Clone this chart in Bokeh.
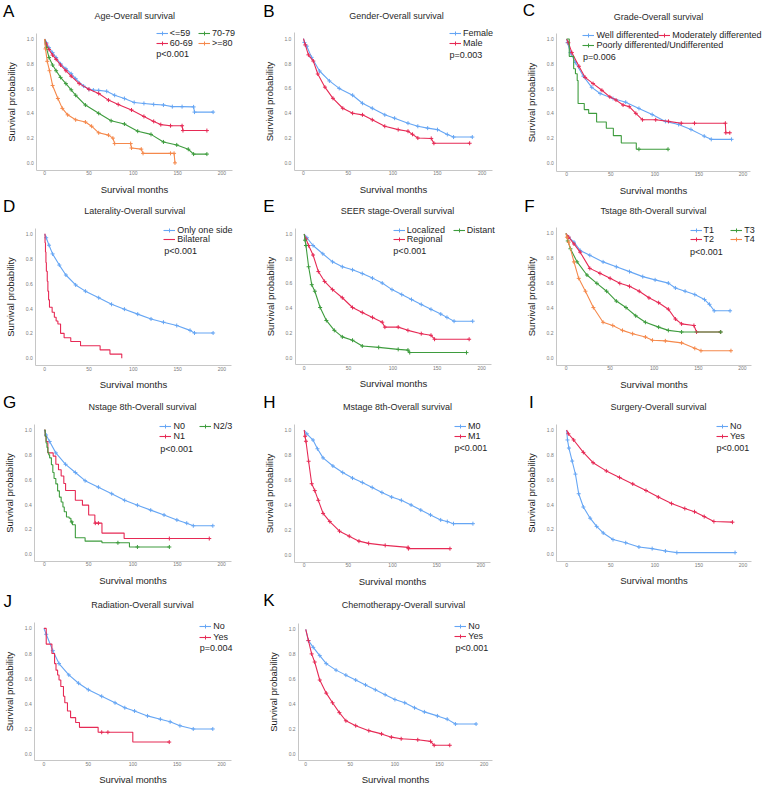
from bokeh.plotting import figure
from bokeh.models import Range1d, FixedTicker, PrintfTickFormatter, Label, Legend, LegendItem
from bokeh.layouts import gridplot
from bokeh.embed import file_html
from bokeh.resources import INLINE
import numpy as np

# ------------------------------------------------------------------ data
x_ticks = [0, 50, 100, 150, 200]
y_ticks = [0.0, 0.2, 0.4, 0.6, 0.8, 1.0]

# A  Age
age_groups = ["<=59", "60-69", "70-79", ">=80"]
age_t_le59 = [0, 2, 5, 9, 13, 18, 24, 30, 35, 44, 50, 55, 61, 70, 79, 90, 101, 112, 123, 134, 144, 155, 168, 169, 190]
age_s_le59 = [1.0, 0.97, 0.93, 0.89, 0.85, 0.80, 0.76, 0.72, 0.68, 0.62, 0.594, 0.588, 0.585, 0.578, 0.546, 0.52, 0.488, 0.48, 0.472, 0.467, 0.454, 0.454, 0.452, 0.41, 0.41]
age_t_6069 = [0, 2, 5, 9, 13, 18, 24, 30, 39, 50, 61, 72, 83, 98, 112, 123, 131, 142, 155, 156, 183]
age_s_6069 = [1.0, 0.96, 0.915, 0.87, 0.836, 0.79, 0.744, 0.70, 0.64, 0.594, 0.56, 0.507, 0.472, 0.427, 0.375, 0.335, 0.309, 0.30, 0.30, 0.261, 0.261]
age_t_7079 = [0, 2, 5, 9, 13, 18, 24, 30, 35, 46, 61, 75, 90, 105, 120, 134, 149, 162, 168, 183]
age_s_7079 = [1.0, 0.93, 0.85, 0.79, 0.744, 0.69, 0.64, 0.59, 0.546, 0.467, 0.40, 0.34, 0.314, 0.256, 0.23, 0.169, 0.145, 0.11, 0.071, 0.071]
age_t_ge80 = [0, 1, 3, 5.5, 9, 15, 20, 26, 35, 46, 53, 61, 72, 77, 79, 97, 98, 109, 111, 142, 146, 147]
age_s_ge80 = [1.0, 0.92, 0.82, 0.744, 0.625, 0.52, 0.44, 0.388, 0.348, 0.33, 0.296, 0.243, 0.224, 0.2, 0.156, 0.156, 0.12, 0.111, 0.077, 0.077, 0.077, 0.0]

# B  Gender
gender_groups = ["Female", "Male"]
gender_t_f = [0, 1, 3.7, 9, 18, 29, 40, 55, 66, 77, 91, 102, 117, 128, 139, 150, 161, 168, 189]
gender_s_f = [1.0, 0.97, 0.94, 0.85, 0.74, 0.66, 0.60, 0.545, 0.48, 0.44, 0.387, 0.36, 0.32, 0.295, 0.28, 0.268, 0.229, 0.208, 0.208]
gender_t_m = [0, 2, 5.5, 11, 16, 24, 33, 44, 55, 66, 77, 91, 106, 117, 122, 128, 143, 146, 186]
gender_s_m = [1.0, 0.95, 0.87, 0.82, 0.716, 0.61, 0.52, 0.44, 0.40, 0.387, 0.347, 0.295, 0.268, 0.255, 0.23, 0.20, 0.197, 0.158, 0.158]

# C  Grade
grade_groups = ["Well differented", "Moderately differented", "Poorly differented/Undifferented"]
grade_t_well = [0, 1, 4.4, 10, 19, 28.5, 38, 52.6, 67, 82, 97, 112, 127, 141, 156, 164, 187]
grade_s_well = [1.0, 0.97, 0.89, 0.81, 0.70, 0.61, 0.56, 0.52, 0.49, 0.44, 0.39, 0.335, 0.31, 0.27, 0.216, 0.19, 0.19]
grade_t_mod = [0, 2, 6, 14, 21, 30, 40, 49, 56, 64, 71, 78.5, 86, 101, 115.5, 130, 145, 180, 180.5, 185]
grade_s_mod = [1.0, 0.97, 0.89, 0.78, 0.69, 0.64, 0.586, 0.533, 0.507, 0.467, 0.454, 0.40, 0.348, 0.348, 0.335, 0.32, 0.32, 0.32, 0.243, 0.243]
grade_t_poor = [0, 3, 8, 10, 12, 13, 20, 25, 34, 45, 53, 62, 79, 115]
grade_s_poor = [1.0, 0.86, 0.76, 0.72, 0.665, 0.48, 0.43, 0.40, 0.33, 0.28, 0.22, 0.16, 0.11, 0.11]
grade_c_poor = [82, 115]

# D  Laterality
lat_groups = ["Only one side", "Bilateral"]
lat_t_one = [0, 1.8, 5, 9, 16.6, 24, 35, 46, 61, 75.5, 90, 105, 120, 134, 149, 164, 169, 190]
lat_s_one = [1.0, 0.97, 0.91, 0.84, 0.75, 0.67, 0.59, 0.54, 0.487, 0.434, 0.395, 0.355, 0.316, 0.29, 0.263, 0.224, 0.203, 0.203]
lat_t_bi = [0, 0.5, 1, 1.5, 2, 3, 3.7, 4.5, 5.5, 8.5, 11, 13, 15, 18, 22, 29.5, 40.5, 62.6, 73.7, 87]
lat_s_bi = [1.0, 0.93, 0.855, 0.77, 0.70, 0.62, 0.54, 0.47, 0.41, 0.37, 0.33, 0.30, 0.276, 0.20, 0.165, 0.135, 0.10, 0.067, 0.033, 0.0]
lat_c_bi = []

# E  SEER stage
seer_groups = ["Localized", "Regional", "Distant"]
seer_t_loc = [0, 3, 10, 21, 32, 43, 54.5, 65.5, 77, 88, 99, 110, 121, 132, 143, 154, 161, 169, 190]
seer_s_loc = [1.0, 0.97, 0.907, 0.84, 0.775, 0.735, 0.71, 0.68, 0.643, 0.603, 0.55, 0.51, 0.47, 0.43, 0.39, 0.352, 0.325, 0.294, 0.294]
seer_t_reg = [0, 2, 5, 10, 16, 23, 32, 43, 54.5, 65.5, 77, 88, 91, 106, 117, 132, 143, 147, 186]
seer_s_reg = [1.0, 0.96, 0.907, 0.83, 0.696, 0.616, 0.55, 0.484, 0.405, 0.365, 0.325, 0.286, 0.246, 0.246, 0.22, 0.193, 0.18, 0.148, 0.148]
seer_t_dis = [0, 1, 2, 5, 8.5, 12, 18, 25, 34, 43, 54.5, 65.5, 84, 106, 117, 119, 183]
seer_s_dis = [1.0, 0.95, 0.907, 0.735, 0.59, 0.537, 0.405, 0.30, 0.22, 0.167, 0.14, 0.093, 0.082, 0.066, 0.06, 0.04, 0.04]

# F  T stage
t_groups = ["T1", "T2", "T3", "T4"]
t_t_t1 = [0, 3, 9, 16, 27, 42, 57, 72, 87, 101, 116, 124, 135, 146, 157, 162.6, 168, 186]
t_s_t1 = [1.0, 0.97, 0.93, 0.864, 0.825, 0.772, 0.733, 0.694, 0.654, 0.628, 0.602, 0.563, 0.537, 0.51, 0.47, 0.432, 0.38, 0.38]
t_t_t2 = [0, 3, 9, 16, 27, 38.5, 50, 61, 72, 83, 94, 105, 116, 124, 131, 145, 148, 175]
t_s_t2 = [1.0, 0.97, 0.916, 0.85, 0.72, 0.68, 0.64, 0.60, 0.576, 0.537, 0.484, 0.445, 0.393, 0.314, 0.275, 0.262, 0.21, 0.21]
t_t_t3 = [0, 2, 5, 12.6, 23.7, 35, 46, 57, 68, 79, 90, 105, 116, 131, 175.5]
t_s_t3 = [1.0, 0.94, 0.877, 0.772, 0.667, 0.60, 0.537, 0.458, 0.406, 0.34, 0.288, 0.249, 0.223, 0.21, 0.21]
t_t_t4 = [0, 1, 3, 9, 14.4, 22, 31, 42, 53, 64, 75.5, 90, 98, 112.6, 131, 146, 153, 187]
t_s_t4 = [1.0, 0.97, 0.93, 0.772, 0.64, 0.537, 0.406, 0.288, 0.262, 0.223, 0.196, 0.17, 0.144, 0.139, 0.123, 0.079, 0.06, 0.06]

# G  N stage
n_groups = ["N0", "N1", "N2/3"]
n_t_n0 = [0, 2, 6, 13, 24, 35, 46, 61, 76, 90.6, 105, 120, 135, 149.5, 160.6, 168, 190]
n_s_n0 = [1.0, 0.96, 0.908, 0.816, 0.724, 0.658, 0.592, 0.54, 0.487, 0.434, 0.395, 0.355, 0.316, 0.276, 0.25, 0.229, 0.229]
n_t_n1 = [0, 1, 2, 4, 10, 13, 16, 19, 22, 24, 35, 43, 50, 57, 65, 90, 186]
n_s_n1 = [1.0, 0.95, 0.908, 0.816, 0.79, 0.724, 0.68, 0.63, 0.57, 0.513, 0.434, 0.395, 0.316, 0.25, 0.17, 0.126, 0.126]
n_c_n1 = [57.5, 61, 141, 186]
n_t_n23 = [0, 1, 2, 3, 4, 5, 6, 8, 9.6, 11, 13, 15, 17, 19, 21, 22.5, 25, 28, 30, 31.7, 35, 46, 65, 96, 141]
n_s_n23 = [1.0, 0.95, 0.895, 0.86, 0.82, 0.80, 0.776, 0.72, 0.658, 0.61, 0.566, 0.51, 0.46, 0.42, 0.38, 0.342, 0.30, 0.29, 0.26, 0.237, 0.132, 0.105, 0.092, 0.058, 0.058]
n_c_n23 = [31, 83, 105, 141]

# H  M stage
m_groups = ["M0", "M1"]
m_t_m0 = [0, 3, 10, 15, 21.4, 32.5, 43.6, 54.7, 65.8, 77, 88, 99, 110, 121, 132, 143, 154.5, 162, 169, 191]
m_s_m0 = [1.0, 0.97, 0.92, 0.85, 0.777, 0.712, 0.66, 0.615, 0.58, 0.54, 0.50, 0.463, 0.437, 0.40, 0.359, 0.32, 0.28, 0.267, 0.25, 0.25]
m_t_m1 = [0, 1, 2, 5, 8.5, 12, 16, 21.4, 29, 40, 51, 62, 73, 91.7, 117.6, 118, 165]
m_s_m1 = [1.0, 0.95, 0.91, 0.75, 0.57, 0.515, 0.437, 0.332, 0.267, 0.19, 0.15, 0.11, 0.092, 0.076, 0.06, 0.05, 0.05]

# I  Surgery
surg_groups = ["No", "Yes"]
surg_t_no = [0, 1, 2.6, 6.3, 10, 13.7, 19, 26.7, 34, 41.5, 52.6, 67, 82, 97, 112, 125, 191]
surg_s_no = [1.0, 0.92, 0.855, 0.75, 0.645, 0.487, 0.38, 0.29, 0.224, 0.171, 0.118, 0.092, 0.058, 0.045, 0.026, 0.013, 0.013]
surg_t_yes = [0, 2, 8, 19, 30, 45, 60, 75, 90, 104, 119, 134, 145, 156, 167, 188]
surg_s_yes = [1.0, 0.97, 0.92, 0.82, 0.737, 0.671, 0.618, 0.566, 0.513, 0.46, 0.408, 0.368, 0.342, 0.303, 0.263, 0.258]

# J  Radiation
rad_groups = ["No", "Yes"]
rad_t_no = [0, 2.6, 10, 17, 28, 39, 50, 65, 80, 91, 102, 116.5, 131, 142, 153, 168, 190]
rad_s_no = [1.0, 0.953, 0.823, 0.72, 0.63, 0.564, 0.512, 0.46, 0.408, 0.369, 0.343, 0.304, 0.278, 0.257, 0.226, 0.2, 0.2]
rad_t_yes = [0, 2.6, 9, 12, 13.6, 15.4, 17, 19, 22, 23.5, 26.5, 30, 35.7, 40, 61, 100, 141]
rad_s_yes = [1.0, 0.875, 0.80, 0.72, 0.668, 0.629, 0.59, 0.538, 0.46, 0.408, 0.343, 0.29, 0.252, 0.213, 0.174, 0.096, 0.096]
rad_c_yes = [65, 72, 141]

# K  Chemotherapy
chemo_groups = ["No", "Yes"]
chemo_t_no = [0, 3, 8.4, 15.7, 23, 34, 45, 56, 67, 78, 89, 100, 111, 122, 133, 147.6, 158.6, 167.8, 191]
chemo_s_no = [1.0, 0.91, 0.856, 0.79, 0.726, 0.674, 0.634, 0.595, 0.556, 0.517, 0.478, 0.439, 0.413, 0.373, 0.34, 0.308, 0.282, 0.243, 0.243]
chemo_t_yes = [0, 3, 6.6, 10, 15.7, 23, 30, 37.7, 45, 56, 70.7, 85, 96, 107, 125.6, 140, 144, 161.5]
chemo_s_yes = [1.0, 0.91, 0.804, 0.739, 0.595, 0.49, 0.413, 0.334, 0.269, 0.23, 0.19, 0.164, 0.138, 0.125, 0.117, 0.104, 0.073, 0.073]

titles = ["Age-Overall survival", "Gender-Overall survival", "Grade-Overall survival",
          "Laterality-Overall survival", "SEER stage-Overall survival", "Tstage 8th-Overall survival",
          "Nstage 8th-Overall survival", "Mstage 8th-Overall survival", "Surgery-Overall survival",
          "Radiation-Overall survival", "Chemotherapy-Overall survival"]
letters = ["A", "B", "C", "D", "E", "F", "G", "H", "I", "J", "K"]
p_values = ["p<0.001", "p=0.003", "p=0.006", "p<0.001", "p<0.001", "p<0.001",
            "p<0.001", "p<0.001", "p<0.001", "p=0.004", "p<0.001"]

# ------------------------------------------------------------------ style
BLUE, RED, GREEN, ORANGE = "#66a6f4", "#e62a55", "#3e9c3e", "#f5894c"
FONT = "Liberation Sans"

series = [
    (age_groups, [BLUE, RED, GREEN, ORANGE],
     [(age_t_le59, age_s_le59, False, None), (age_t_6069, age_s_6069, False, None),
      (age_t_7079, age_s_7079, False, None), (age_t_ge80, age_s_ge80, False, None)]),
    (gender_groups, [BLUE, RED],
     [(gender_t_f, gender_s_f, False, None), (gender_t_m, gender_s_m, False, None)]),
    (grade_groups, [BLUE, RED, GREEN],
     [(grade_t_well, grade_s_well, False, None), (grade_t_mod, grade_s_mod, False, None),
      (grade_t_poor, grade_s_poor, True, grade_c_poor)]),
    (lat_groups, [BLUE, RED],
     [(lat_t_one, lat_s_one, False, None), (lat_t_bi, lat_s_bi, True, lat_c_bi)]),
    (seer_groups, [BLUE, RED, GREEN],
     [(seer_t_loc, seer_s_loc, False, None), (seer_t_reg, seer_s_reg, False, None),
      (seer_t_dis, seer_s_dis, False, None)]),
    (t_groups, [BLUE, RED, GREEN, ORANGE],
     [(t_t_t1, t_s_t1, False, None), (t_t_t2, t_s_t2, False, None),
      (t_t_t3, t_s_t3, False, None), (t_t_t4, t_s_t4, False, None)]),
    (n_groups, [BLUE, RED, GREEN],
     [(n_t_n0, n_s_n0, False, None), (n_t_n1, n_s_n1, True, n_c_n1), (n_t_n23, n_s_n23, True, n_c_n23)]),
    (m_groups, [BLUE, RED],
     [(m_t_m0, m_s_m0, False, None), (m_t_m1, m_s_m1, False, None)]),
    (surg_groups, [BLUE, RED],
     [(surg_t_no, surg_s_no, False, None), (surg_t_yes, surg_s_yes, False, None)]),
    (rad_groups, [BLUE, RED],
     [(rad_t_no, rad_s_no, False, None), (rad_t_yes, rad_s_yes, True, rad_c_yes)]),
    (chemo_groups, [BLUE, RED],
     [(chemo_t_no, chemo_s_no, False, None), (chemo_t_yes, chemo_s_yes, False, None)]),
]

# geometry of each panel in reference pixels relative to the panel's corner:
# fl = y-axis line x, x0/x200 = pixel of month 0/200, y1/y0 = pixel of prob 1/0,
# fb = x-axis line y, re = right end of x-axis line
LAYOUT = [
    dict(fl=37.0, x0=45.0, x200=226.0, y1=39.3, y0=165.7, fb=173.3, re=237.0,
         letter=(2.5, 11), title=(137, 16), items=[(159, 34), (159, 44), (202, 34), (202, 44)], p=(159, 55)),
    dict(fl=40.7, x0=50.0, x200=232.3, y1=39.0, y0=165.7, fb=173.3, re=243.0,
         letter=(9, 11), title=(145, 16), items=[(199, 34), (199, 44)], p=(199, 56)),
    dict(fl=49.3, x0=59.3, x200=239.3, y1=39.3, y0=165.7, fb=174.0, re=246.7,
         letter=(14.5, 10.5), title=(153, 17), items=[(76, 35.7), (153.3, 35.7), (76, 46)], p=(76, 58)),
    dict(fl=36.0, x0=45.0, x200=226.0, y1=38.3, y0=165.0, fb=172.7, re=236.0,
         letter=(2.5, 10.5), title=(137, 15), items=[(166.7, 34.3), (166.7, 44.3)], p=(167, 56)),
    dict(fl=41.7, x0=50.7, x200=231.7, y1=38.3, y0=164.3, fb=171.7, re=241.7,
         letter=(9, 10.5), title=(146, 15), items=[(141.7, 34.3), (141.7, 44.3), (202.7, 34.3)], p=(141.7, 56)),
    dict(fl=49.0, x0=58.7, x200=238.7, y1=37.7, y0=165.0, fb=172.3, re=248.0,
         letter=(16, 10.5), title=(148, 15), items=[(185.3, 34.3), (185.3, 44.3), (226.7, 34.3), (226.7, 44.3)], p=(185.3, 56.7)),
    dict(fl=35.0, x0=44.7, x200=225.7, y1=38.3, y0=165.0, fb=172.3, re=236.0,
         letter=(2.5, 10.5), title=(145, 15), items=[(162.7, 35.3), (162.7, 45), (203.3, 35.3)], p=(163, 57.3)),
    dict(fl=40.7, x0=50.7, x200=231.0, y1=38.3, y0=165.7, fb=173.0, re=240.7,
         letter=(9, 10.5), title=(146, 15), items=[(204, 35), (204, 45)], p=(204, 56.7)),
    dict(fl=49.3, x0=59.3, x200=239.3, y1=38.3, y0=165.0, fb=172.7, re=248.3,
         letter=(21, 10.5), title=(153, 15), items=[(212.3, 34.7), (212.3, 45)], p=(212.3, 56.7)),
    dict(fl=35.0, x0=44.3, x200=225.7, y1=40.7, y0=169.0, fb=175.7, re=236.0,
         letter=(3, 13), title=(145, 17.3), items=[(203.3, 39.3), (203.3, 50)], p=(203.3, 61)),
    dict(fl=45.0, x0=52.3, x200=234.3, y1=41.7, y0=169.3, fb=176.0, re=242.7,
         letter=(9, 12.5), title=(152, 17.3), items=[(204.3, 38.7), (204.3, 49.3)], p=(205, 61)),
]

S = 0.98
W, H = 254, 196


def surv_at(t, s, c, step):
    if step:
        idx = max(i for i, tt in enumerate(t) if tt <= c)
        return s[idx]
    return float(np.interp(c, t, s))


def build(i):
    names, colors, curves = series[i]
    lay = LAYOUT[i]
    kx = (lay["x200"] - lay["x0"]) * S / 200.0
    ky = (lay["y0"] - lay["y1"]) * S
    x_start = -lay["x0"] * S / kx
    x_end = x_start + W / kx
    y_end = 1.0 + lay["y1"] * S / ky
    y_start = y_end - H / ky
    ax_x = (lay["fl"] - lay["x0"]) / (lay["x200"] - lay["x0"]) * 200.0
    right_x = (lay["re"] - lay["x0"]) / (lay["x200"] - lay["x0"]) * 200.0
    ax_y = (lay["y0"] - lay["fb"]) / (lay["y0"] - lay["y1"])
    top_y = (lay["y0"] - (lay["y1"] - 6.0)) / (lay["y0"] - lay["y1"])

    p = figure(width=W, height=H, output_backend="svg", toolbar_location=None, tools="",
               title=None, x_range=Range1d(x_start, x_end), y_range=Range1d(y_start, y_end),
               min_border_left=0, min_border_right=0, min_border_top=0, min_border_bottom=0)
    p.grid.visible = False
    p.outline_line_color = None
    p.background_fill_color = "white"
    p.border_fill_color = "white"
    for ax in (p.xaxis[0], p.yaxis[0]):
        ax.axis_line_color = "#c6c6c6"
        ax.axis_line_width = 1
        ax.major_tick_line_color = None
        ax.minor_tick_line_color = None
        ax.major_tick_out = 0
        ax.major_tick_in = 0
        ax.minor_tick_out = 0
        ax.minor_tick_in = 0
        ax.major_label_text_font = FONT
        ax.major_label_text_font_size = "5px"
        ax.major_label_text_color = "#7a7a7a"
        ax.axis_label_text_font = FONT
        ax.axis_label_text_font_size = "9.5px"
        ax.axis_label_text_font_style = "normal"
        ax.axis_label_text_color = "#1e1e1e"
    p.xaxis.axis_label = "Survival months"
    p.yaxis.axis_label = "Survival probability"
    p.xaxis.ticker = FixedTicker(ticks=x_ticks)
    p.yaxis.ticker = FixedTicker(ticks=y_ticks)
    p.yaxis.formatter = PrintfTickFormatter(format="%.1f")
    p.xaxis.major_label_standoff = 1
    p.yaxis.major_label_standoff = 3
    p.xaxis.axis_label_standoff = 5
    p.yaxis.axis_label_standoff = 7
    p.yaxis.fixed_location = ax_x
    p.xaxis.fixed_location = ax_y
    p.yaxis.bounds = (ax_y, top_y)
    p.xaxis.bounds = (ax_x, right_x)

    def sx(px):
        return px * S

    def sy(py):
        return H - py * S

    for name, col, (t, s, step, cens), pos in zip(names, colors, curves, lay["items"]):
        if step:
            r = p.step(t, s, mode="after", line_color=col, line_width=1.1)
        else:
            r = p.line(t, s, line_color=col, line_width=1.1)
        if cens is None:
            ct, cy = t[1:], s[1:]
        else:
            ct = cens
            cy = [surv_at(t, s, c, step) for c in cens]
        m = p.scatter(ct, cy, marker="cross", size=4, line_color=col, line_width=1)
        leg = Legend(items=[LegendItem(label=name, renderers=[r, m])],
                     location=(sx(pos[0]), sy(pos[1] + 5)),
                     orientation="vertical", glyph_width=12, glyph_height=10,
                     label_height=10, label_standoff=2, padding=0, margin=0, spacing=0,
                     border_line_alpha=0, background_fill_alpha=0,
                     label_text_font=FONT, label_text_font_size="9px",
                     label_text_color="#1e1e1e")
        p.add_layout(leg)

    px, py = lay["p"]
    p.add_layout(Label(x=sx(px), y=sy(py), x_units="screen", y_units="screen", text=p_values[i],
                       text_font=FONT, text_font_size="9px", text_color="#1e1e1e",
                       text_align="left", text_baseline="middle"))
    tx, ty = lay["title"]
    p.add_layout(Label(x=sx(tx), y=sy(ty), x_units="screen", y_units="screen", text=titles[i],
                       text_font=FONT, text_font_size="9px", text_color="#2a2a2a",
                       text_align="center", text_baseline="middle"))
    lx, ly = lay["letter"]
    p.add_layout(Label(x=sx(lx), y=sy(ly), x_units="screen", y_units="screen", text=letters[i],
                       text_font=FONT, text_font_size="17px", text_color="#000000",
                       text_align="left", text_baseline="middle"))
    return p


figs = [build(i) for i in range(11)]
grid = gridplot([figs[0:3], figs[3:6], figs[6:9], [figs[9], figs[10], None]],
                toolbar_location=None)

open("out.html", "w").write(file_html(grid, INLINE))
